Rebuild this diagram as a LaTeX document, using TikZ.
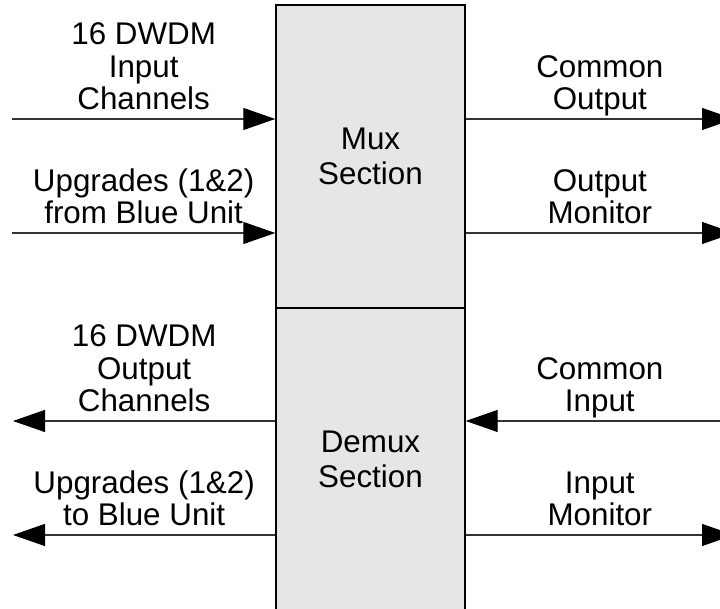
\documentclass[tikz,border=0pt]{standalone}
\usepackage{fontspec}
\setmainfont{Liberation Sans}
\usetikzlibrary{arrows.meta}
\definecolor{wire}{HTML}{333333}
\definecolor{boxgray}{HTML}{E6E6E6}

\begin{document}
\begin{tikzpicture}[
    sectionbox/.style={draw, line width=1pt, fill=boxgray, minimum width=4.725cm, minimum height=7.575cm, align=center, font=\fontsize{22.3}{24.5}\selectfont},
    sig/.style={draw=wire, line width=0.75pt, -{Triangle[length=0.8cm,width=0.55cm,color=black]}},
    lbl/.style={midway, above=1.5pt, inner sep=0pt, align=center, font=\fontsize{22.3}{23.1}\selectfont, execute at end node={\vphantom{p}}}
  ]
  \useasboundingbox (0,0) rectangle (18,15.225);
  % the two sections
  \node[sectionbox] (mux) at (9.2625,11.3125) {Mux\\Section};
  \node[sectionbox] (demux) at (9.2625,3.7375) {Demux\\Section};
  % free ends
  \coordinate (in1) at (0.3,12.25);
  \coordinate (in2) at (0.3,9.4);
  \coordinate (out1) at (18.35,12.25);
  \coordinate (out2) at (18.35,9.4);
  \coordinate (dout1) at (0.325,4.7);
  \coordinate (dout2) at (0.325,1.85);
  \coordinate (din1) at (18.35,4.7);
  \coordinate (din2) at (18.35,1.85);
  % mux side
  \draw[sig] (in1) -- (mux.west |- in1) node[lbl] {16 DWDM\\Input\\Channels};
  \draw[sig] (in2) -- (mux.west |- in2) node[lbl] {Upgrades (1\&2)\\from Blue Unit};
  \draw[sig] (mux.east |- out1) -- (out1) node[lbl] {Common\\Output};
  \draw[sig] (mux.east |- out2) -- (out2) node[lbl] {Output\\Monitor};
  % demux side
  \draw[sig] (demux.west |- dout1) -- (dout1) node[lbl] {16 DWDM\\Output\\Channels};
  \draw[sig] (demux.west |- dout2) -- (dout2) node[lbl] {Upgrades (1\&2)\\to Blue Unit};
  \draw[sig] (din1) -- (demux.east |- din1) node[lbl] {Common\\Input};
  \draw[sig] (demux.east |- din2) -- (din2) node[lbl] {Input\\Monitor};
\end{tikzpicture}
\end{document}
